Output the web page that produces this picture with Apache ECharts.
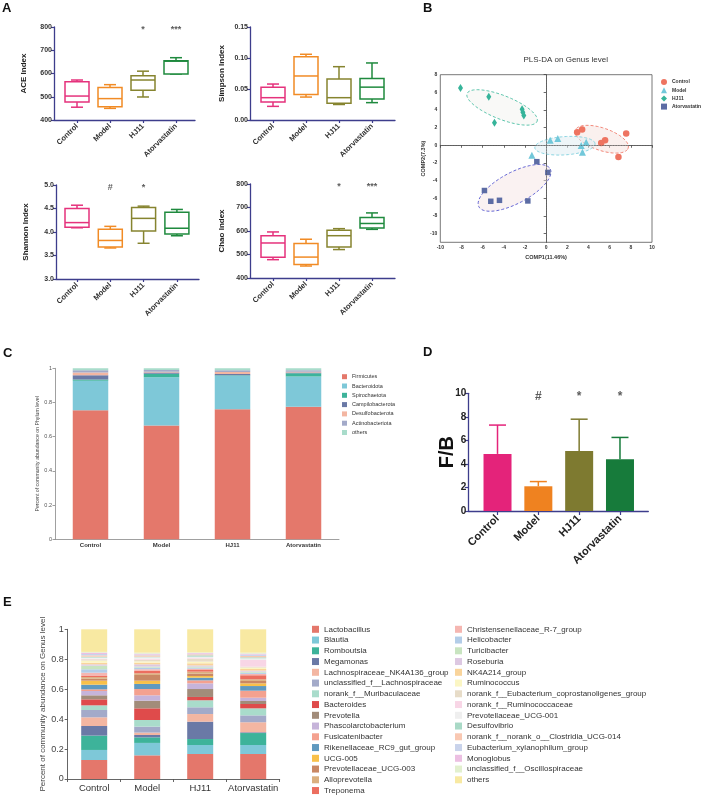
<!DOCTYPE html>
<html>
<head>
<meta charset="utf-8">
<title>Gut microbiota figure</title>
<script src="https://cdn.jsdelivr.net/npm/echarts@6/dist/echarts.min.js"></script>
<style>
  html, body { margin: 0; padding: 0; background: #fff; }
  #main { width: 708px; height: 799px; }
</style>
</head>
<body>
<div id="main"></div>
<script>
const groups = ['Control', 'Model', 'HJ11', 'Atorvastatin']

// A: alpha diversity boxes, [min, Q1, median, Q3, max]
const ace = [[455, 477, 503, 565, 572], [450, 457, 492, 540, 552], [499, 528, 572, 590, 610], [598, 598, 653, 655, 668]]
const simpson = [[0.022, 0.029, 0.036, 0.053, 0.058], [0.037, 0.041, 0.071, 0.102, 0.106], [0.025, 0.027, 0.036, 0.066, 0.086], [0.028, 0.034, 0.053, 0.067, 0.092]]
const shannon = [[4.09, 4.10, 4.20, 4.50, 4.57], [3.66, 3.68, 3.82, 4.06, 4.12], [3.76, 4.02, 4.29, 4.52, 4.55], [3.92, 3.96, 4.08, 4.42, 4.48]]
const chao = [[478, 488, 549, 580, 596], [451, 457, 489, 547, 565], [521, 532, 580, 603, 610], [607, 613, 632, 657, 677]]
const aceSig = ['', '', '*', '***']
const simpsonSig = ['', '', '', '']
const shannonSig = ['', '#', '*', '']
const chaoSig = ['', '', '*', '***']

// B: PLS-DA scores [COMP1, COMP2]
const plsControl = [[2.93, 1.48], [3.40, 1.79], [5.20, 0.27], [5.57, 0.57], [7.56, 1.33], [6.83, -1.33]]
const plsModel = [[0.38, 0.57], [1.10, 0.76], [3.31, -0.04], [3.78, 0.34], [3.43, -0.80], [-1.35, -1.14]]
const plsHJ11 = [[-8.09, 6.50], [-5.42, 5.51], [-4.88, 2.55], [-2.27, 4.07], [-2.20, 3.73], [-2.11, 3.38]]
const plsAtorvastatin = [[-0.88, -1.86], [0.16, -3.08], [-5.83, -5.13], [-5.23, -6.35], [-4.41, -6.24], [-1.73, -6.31]]
const plsYTicks = [-10, -8, -6, -4, -2, 0, 2, 4, 6, 8]

// C: phylum level
const phyla = ['Firmicutes', 'Bacteroidota', 'Spirochaetota', 'Campilobacterota', 'Desulfobacterota', 'Actinobacteriota', 'others']
const firmicutes = [0.755, 0.665, 0.760, 0.775]
const bacteroidota = [0.172, 0.283, 0.197, 0.177]
const spirochaetota = [0.008, 0.020, 0.003, 0.019]
const campilobacterota = [0.025, 0.007, 0.006, 0.004]
const desulfobacterota = [0.015, 0.005, 0.012, 0.005]
const actinobacteriota = [0.013, 0.010, 0.010, 0.008]
const phylumOthers = [0.012, 0.010, 0.012, 0.012]

// D: F/B ratio
const fbMean = [4.85, 2.1, 5.1, 4.4]
const fbSD = [2.45, 0.4, 2.7, 1.85]
const fbSig = ['', '#', '*', '*']

// E: genus level
const genera = ['Lactobacillus', 'Blautia', 'Romboutsia', 'Megamonas', 'Lachnospiraceae_NK4A136_group',
  'unclassified_f__Lachnospiraceae', 'norank_f__Muribaculaceae', 'Bacteroides', 'Prevotella',
  'Phascolarctobacterium', 'Fusicatenibacter', 'Rikenellaceae_RC9_gut_group', 'UCG-005',
  'Prevotellaceae_UCG-003', 'Alloprevotella', 'Treponema', 'Christensenellaceae_R-7_group',
  'Helicobacter', 'Turicibacter', 'Roseburia', 'NK4A214_group', 'Ruminococcus',
  'norank_f__Eubacterium_coprostanoligenes_group', 'norank_f__Ruminococcaceae', 'Prevotellaceae_UCG-001',
  'Desulfovibrio', 'norank_f__norank_o__Clostridia_UCG-014', 'Eubacterium_xylanophilum_group',
  'Monoglobus', 'unclassified_f__Oscillospiraceae', 'others']
const genusControl = [0.127, 0.067, 0.096, 0.064, 0.058, 0.049, 0.031, 0.040, 0.027, 0.029, 0.011, 0.031, 0.027, 0.013, 0.011, 0.007, 0.022, 0.023, 0.024, 0.009, 0.011, 0.014, 0.009, 0.004, 0.007, 0.006, 0.009, 0.009, 0.009, 0.005, 0.151]
const genusModel = [0.158, 0.083, 0.037, 0.016, 0.016, 0.040, 0.044, 0.078, 0.051, 0.036, 0.042, 0.034, 0.022, 0.038, 0.011, 0.016, 0.011, 0.011, 0.007, 0.015, 0.011, 0.009, 0.011, 0.007, 0.009, 0.004, 0.009, 0.005, 0.006, 0.007, 0.156]
const genusHJ11 = [0.167, 0.060, 0.040, 0.116, 0.051, 0.045, 0.047, 0.022, 0.053, 0.038, 0.020, 0.018, 0.011, 0.016, 0.013, 0.011, 0.009, 0.007, 0.007, 0.008, 0.014, 0.011, 0.020, 0.004, 0.009, 0.009, 0.007, 0.004, 0.005, 0.004, 0.154]
const genusAtorvastatin = [0.167, 0.060, 0.080, 0.005, 0.067, 0.046, 0.047, 0.029, 0.020, 0.022, 0.047, 0.031, 0.018, 0.016, 0.011, 0.027, 0.009, 0.008, 0.007, 0.007, 0.011, 0.009, 0.007, 0.044, 0.011, 0.007, 0.009, 0.009, 0.006, 0.007, 0.156]

// 颜色
const navy = '#3d3d8c'
const groupColors = ['#e5327c', '#f18b25', '#86842f', '#1f8a3e']
const barColors = ['#e4237a', '#ef8220', '#7e7a30', '#177b3b']
const plsColors = ['#ee7461', '#72c8da', '#36b49a', '#5c6ca4']
const plsSymbols = ['circle', 'triangle', 'diamond', 'rect']
const plsSizes = [6.5, 7, [5, 8], 5.5]
const ellipseStroke = ['#f07b6b', '#7fd0de', '#4ebfa5', '#5557d0']
const ellipseFill = ['rgba(245,222,218,0.45)', 'rgba(222,236,242,0.5)', 'rgba(240,240,236,0.4)', 'rgba(246,230,230,0.5)']
const phylumColors = ['#e4786b', '#7ec8d8', '#3db39a', '#6a79a6', '#f3b6a2', '#a3aac9', '#a9dccb']
const genusColors = ['#e4776b', '#7ec8d8', '#3db39a', '#6a79a6', '#f3b6a2', '#a3aac9', '#a9dccb', '#df4b4b',
  '#a28c7a', '#c6b4da', '#f4a18f', '#6099bf', '#f8c04a', '#c98864', '#dbb07f', '#ec6e5f', '#f5b6b1',
  '#b3cde8', '#c8e4c0', '#ddc8e2', '#f9d49b', '#fbf6c4', '#e7dcc8', '#f8d6e6', '#efefef', '#a9d9c6',
  '#f9c8b2', '#c9d3eb', '#ecbfe2', '#e2f0ce', '#f8e9a2']
const font = 'Arial, "Liberation Sans", Helvetica, sans-serif'

const grids = []
const xAxes = []
const yAxes = []
const series = []

//箱线图，自己画须和帽
function boxItem(params, api) {
  const i = api.value(0)
  const x = api.coord([i, api.value(1)])[0]
  const yLo = api.coord([i, api.value(1)])[1]
  const yQ1 = api.coord([i, api.value(2)])[1]
  const yMd = api.coord([i, api.value(3)])[1]
  const yQ3 = api.coord([i, api.value(4)])[1]
  const yHi = api.coord([i, api.value(5)])[1]
  const c = groupColors[i]
  const s = { stroke: c, lineWidth: 1.5, fill: null }
  const hw = 12
  const cw = 6
  return {
    type: 'group',
    children: [
      { type: 'line', shape: { x1: x, y1: yQ3, x2: x, y2: yHi }, style: s },
      { type: 'line', shape: { x1: x, y1: yQ1, x2: x, y2: yLo }, style: s },
      { type: 'line', shape: { x1: x - cw, y1: yHi, x2: x + cw, y2: yHi }, style: s },
      { type: 'line', shape: { x1: x - cw, y1: yLo, x2: x + cw, y2: yLo }, style: s },
      { type: 'rect', shape: { x: x - hw, y: yQ3, width: hw * 2, height: yQ1 - yQ3 }, style: { stroke: c, lineWidth: 1.5, fill: '#fff' } },
      { type: 'line', shape: { x1: x - hw, y1: yMd, x2: x + hw, y2: yMd }, style: s }
    ]
  }
}

function lineOnlyAxis(gi) {
  return {
    gridIndex: gi, type: 'value', min: 0, max: 1,
    axisLine: { show: true, lineStyle: { color: navy, width: 1.3 } },
    axisTick: { show: false }, axisLabel: { show: false }, splitLine: { show: false }
  }
}

function boxPanel(o) {
  const gf = grids.length
  grids.push({ left: o.axisX, top: o.top, width: o.lineEnd - o.axisX, height: o.height })
  xAxes.push(lineOnlyAxis(gf))
  yAxes.push({
    gridIndex: gf, type: 'value', min: o.min, max: o.max, interval: o.step,
    axisLine: { show: true, lineStyle: { color: navy, width: 1.3 } },
    axisTick: { show: true, length: 3, lineStyle: { color: navy, width: 1.2 } },
    axisLabel: { fontSize: 7, fontWeight: 'bold', color: '#333', margin: 2,
      formatter: v => (o.digits == null ? String(v) : v.toFixed(o.digits)) },
    splitLine: { show: false },
    name: o.name, nameLocation: 'middle', nameGap: o.nameGap,
    nameTextStyle: { fontSize: 8, fontWeight: 'bold', color: '#222' }
  })
  const gc = grids.length
  grids.push({ left: o.firstCenter - o.band / 2, top: o.top, width: o.band * 4, height: o.height })
  xAxes.push({
    gridIndex: gc, type: 'category', data: groups,
    axisLine: { show: false },
    axisTick: { show: true, alignWithLabel: true, length: 3, lineStyle: { color: navy, width: 1.2 } },
    axisLabel: { rotate: 45, fontSize: 7.5, fontWeight: 'bold', color: '#333', margin: 5, interval: 0 }
  })
  yAxes.push({ gridIndex: gc, type: 'value', min: o.min, max: o.max, show: false })
  series.push({
    type: 'custom', xAxisIndex: gc, yAxisIndex: gc, renderItem: boxItem, silent: true,
    data: o.data.map((d, i) => [i].concat(d)), encode: { x: 0, y: [1, 2, 3, 4, 5] }
  })
  series.push({
    type: 'scatter', xAxisIndex: gc, yAxisIndex: gc, symbolSize: 0, silent: true,
    data: groups.map((g, i) => [i, o.max]),
    label: { show: true, position: 'inside', formatter: p => o.sig[p.dataIndex],
      fontSize: 9, fontWeight: 'bold', color: '#333', offset: [0, 3] }
  })
}

boxPanel({ axisX: 54, lineEnd: 195, firstCenter: 77, band: 33, top: 27, height: 93, min: 400, max: 800, step: 100,
  name: 'ACE Index', nameGap: 26, data: ace, sig: aceSig })
boxPanel({ axisX: 250, lineEnd: 395, firstCenter: 273, band: 33, top: 27, height: 93, min: 0, max: 0.15, step: 0.05, digits: 2,
  name: 'Simpson Index', nameGap: 24, data: simpson, sig: simpsonSig })
boxPanel({ axisX: 56, lineEnd: 199, firstCenter: 77, band: 33.3, top: 185, height: 94, min: 3, max: 5, step: 0.5, digits: 1,
  name: 'Shannon Index', nameGap: 26, data: shannon, sig: shannonSig })
boxPanel({ axisX: 250, lineEnd: 395, firstCenter: 273, band: 33, top: 184, height: 94, min: 400, max: 800, step: 100,
  name: 'Chao Index', nameGap: 24, data: chao, sig: chaoSig })

// B PLS-DA
const plsGroups = [plsControl, plsModel, plsHJ11, plsAtorvastatin]
function ellipsePoints(pts, k) {
  const n = pts.length
  const mx = pts.reduce((a, p) => a + p[0], 0) / n
  const my = pts.reduce((a, p) => a + p[1], 0) / n
  let sxx = 0, syy = 0, sxy = 0
  pts.forEach(p => {
    sxx += (p[0] - mx) * (p[0] - mx)
    syy += (p[1] - my) * (p[1] - my)
    sxy += (p[0] - mx) * (p[1] - my)
  })
  sxx /= n - 1; syy /= n - 1; sxy /= n - 1
  const mid = (sxx + syy) / 2
  const d = Math.sqrt(((sxx - syy) / 2) ** 2 + sxy * sxy)
  const a = Math.sqrt(mid + d), b = Math.sqrt(Math.max(mid - d, 0))
  const th = 0.5 * Math.atan2(2 * sxy, sxx - syy)
  const out = []
  for (let t = 0; t < 72; t++) {
    const u = t / 72 * Math.PI * 2
    const ex = a * Math.cos(u), ey = b * Math.sin(u)
    out.push([mx + k * (ex * Math.cos(th) - ey * Math.sin(th)), my + k * (ex * Math.sin(th) + ey * Math.cos(th))])
  }
  return out
}
const gB = grids.length
grids.push({ left: 440.3, top: 74.7, width: 211.7, height: 167.6, show: true, borderColor: '#555', borderWidth: 0.8 })
xAxes.push({
  gridIndex: gB, type: 'value', min: -10, max: 10, interval: 2,
  axisLine: { show: true, lineStyle: { color: '#444', width: 0.8 } },
  axisTick: { show: true, length: 2.5, lineStyle: { color: '#444', width: 0.8 } },
  axisLabel: { fontSize: 5, fontWeight: 'bold', color: '#333', margin: 3 },
  splitLine: { show: false },
  name: 'COMP1(11.46%)', nameLocation: 'middle', nameGap: 12,
  nameTextStyle: { fontSize: 5.5, fontWeight: 'bold', color: '#333' }
})
yAxes.push({
  gridIndex: gB, type: 'value', min: -11, max: 8,
  axisLine: { show: true, lineStyle: { color: '#444', width: 0.8 } },
  axisTick: { show: true, length: 2.5, customValues: plsYTicks, lineStyle: { color: '#444', width: 0.8 } },
  axisLabel: { fontSize: 5, fontWeight: 'bold', color: '#333', margin: 3, customValues: plsYTicks },
  splitLine: { show: false },
  name: 'COMP2(7.3%)', nameLocation: 'middle', nameGap: 13,
  nameTextStyle: { fontSize: 5.5, fontWeight: 'bold', color: '#333' }
})
series.push({
  type: 'custom', xAxisIndex: gB, yAxisIndex: gB, silent: true, z: 1,
  data: plsGroups.map(() => [0, 0]),
  renderItem: (params, api) => {
    const g = params.dataIndex
    const pts = ellipsePoints(plsGroups[g], 1.38).map(p => api.coord(p))
    return { type: 'polygon', shape: { points: pts },
      style: { fill: ellipseFill[g], stroke: ellipseStroke[g], lineWidth: 0.9, lineDash: [3, 2] } }
  },
  markLine: {
    silent: true, symbol: ['none', 'none'], label: { show: false },
    lineStyle: { type: 'dotted', color: '#555', width: 0.8 },
    data: [{ xAxis: 0 }, { yAxis: 0 }]
  }
})
groups.forEach((g, k) => {
  series.push({
    type: 'scatter', name: g, xAxisIndex: gB, yAxisIndex: gB, z: 3,
    symbol: plsSymbols[k], symbolSize: plsSizes[k], data: plsGroups[k],
    itemStyle: { color: plsColors[k], opacity: 1 }
  })
})

// C phylum
const phylumValues = [firmicutes, bacteroidota, spirochaetota, campilobacterota, desulfobacterota, actinobacteriota, phylumOthers]
const gC = grids.length
grids.push({ left: 55, top: 368.3, width: 284, height: 171 })
xAxes.push({
  gridIndex: gC, type: 'category', data: groups,
  axisLine: { show: true, lineStyle: { color: '#888', width: 0.8 } },
  axisTick: { show: false },
  axisLabel: { fontSize: 6, fontWeight: 'bold', color: '#333', margin: 3, interval: 0 }
})
yAxes.push({
  gridIndex: gC, type: 'value', min: 0, max: 1, interval: 0.2,
  axisLine: { show: true, lineStyle: { color: '#888', width: 0.8 } },
  axisTick: { show: true, length: 2.5, lineStyle: { color: '#888', width: 0.8 } },
  axisLabel: { fontSize: 5.5, color: '#555', margin: 3 },
  splitLine: { show: false },
  name: 'Percent of community abundance on Phylum level', nameLocation: 'middle', nameGap: 12,
  nameTextStyle: { fontSize: 5.2, color: '#444' }
})
phyla.forEach((p, k) => {
  series.push({
    type: 'bar', name: p, stack: 'phylum', xAxisIndex: gC, yAxisIndex: gC, barWidth: 35.5,
    data: phylumValues[k], itemStyle: { color: phylumColors[k] }
  })
})

// D F/B
const gDf = grids.length
grids.push({ left: 468.3, top: 393.3, width: 180, height: 117.7 })
xAxes.push(lineOnlyAxis(gDf))
yAxes.push({
  gridIndex: gDf, type: 'value', min: 0, max: 10, interval: 2,
  axisLine: { show: true, lineStyle: { color: navy, width: 1.3 } },
  axisTick: { show: true, length: 3.5, lineStyle: { color: navy, width: 1.2 } },
  axisLabel: { fontSize: 10, fontWeight: 'bold', color: '#222', margin: 2 },
  splitLine: { show: false },
  name: 'F/B', nameLocation: 'middle', nameGap: 11, nameMoveOverlap: false,
  nameTextStyle: { fontSize: 20, fontWeight: 'bold', color: '#111' }
})
const gDc = grids.length
grids.push({ left: 477.1, top: 393.3, width: 163.3, height: 117.7 })
xAxes.push({
  gridIndex: gDc, type: 'category', data: groups,
  axisLine: { show: false },
  axisTick: { show: true, alignWithLabel: true, length: 4, lineStyle: { color: navy, width: 1.2 } },
  axisLabel: { rotate: 45, fontSize: 11, fontWeight: 'bold', color: '#222', margin: 6, interval: 0 }
})
yAxes.push({ gridIndex: gDc, type: 'value', min: 0, max: 10, show: false })
series.push({
  type: 'bar', name: 'F/B', xAxisIndex: gDc, yAxisIndex: gDc, barWidth: 28, silent: true,
  data: fbMean.map((v, i) => ({ value: v, itemStyle: { color: barColors[i] } }))
})
series.push({
  type: 'custom', xAxisIndex: gDc, yAxisIndex: gDc, silent: true, z: 1,
  data: fbMean.map((v, i) => [i, v, v + fbSD[i]]), encode: { x: 0, y: [1, 2] },
  renderItem: (params, api) => {
    const i = api.value(0)
    const lo = api.coord([i, api.value(1)])
    const hi = api.coord([i, api.value(2)])
    const s = { stroke: barColors[i], lineWidth: 1.5 }
    return { type: 'group', children: [
      { type: 'line', shape: { x1: lo[0], y1: lo[1], x2: hi[0], y2: hi[1] }, style: s },
      { type: 'line', shape: { x1: hi[0] - 8.5, y1: hi[1], x2: hi[0] + 8.5, y2: hi[1] }, style: s }
    ] }
  }
})
series.push({
  type: 'scatter', xAxisIndex: gDc, yAxisIndex: gDc, symbolSize: 0, silent: true,
  data: groups.map((g, i) => [i, 10]),
  label: { show: true, position: 'inside', formatter: p => fbSig[p.dataIndex],
    fontSize: 12, fontWeight: 'bold', color: '#333', offset: [0, 3] }
})

// E genus
const genusByGroup = [genusControl, genusModel, genusHJ11, genusAtorvastatin]
const gE = grids.length
grids.push({ left: 67.7, top: 629.3, width: 212, height: 149.7 })
xAxes.push({
  gridIndex: gE, type: 'category', data: groups,
  axisLine: { show: true, lineStyle: { color: '#555', width: 0.9 } },
  axisTick: { show: true, length: 3, lineStyle: { color: '#555', width: 0.9 } },
  axisLabel: { fontSize: 9.5, color: '#333', margin: 4, interval: 0 }
})
yAxes.push({
  gridIndex: gE, type: 'value', min: 0, max: 1, interval: 0.2,
  axisLine: { show: true, lineStyle: { color: '#555', width: 0.9 } },
  axisTick: { show: true, length: 3, lineStyle: { color: '#555', width: 0.9 } },
  axisLabel: { fontSize: 9, color: '#444', margin: 4 },
  splitLine: { show: false },
  name: 'Percent of community abundance on Genus level', nameLocation: 'middle', nameGap: 20,
  nameTextStyle: { fontSize: 8, color: '#444' }
})
genera.forEach((gname, k) => {
  series.push({
    type: 'bar', name: gname, stack: 'genus', xAxisIndex: gE, yAxisIndex: gE, barWidth: 26,
    data: genusByGroup.map(arr => arr[k]), itemStyle: { color: genusColors[k] }
  })
})

const legendE = (names, offset, left) => ({
  orient: 'vertical', left: left, top: 625.3, padding: 0, itemWidth: 7, itemHeight: 7, itemGap: 2.75,
  selectedMode: false, icon: 'rect',
  textStyle: { fontSize: 8, color: '#333' },
  data: names.map((n, j) => ({ name: n, itemStyle: { color: genusColors[offset + j] } }))
})

const panelLetters = [['A', 2, 8], ['B', 423, 8], ['C', 3, 353], ['D', 423, 352], ['E', 3, 602]]

const MyChart = echarts.init(document.getElementById('main'), null, { renderer: 'canvas' })
MyChart.setOption({
  animation: false,
  backgroundColor: '#fff',
  textStyle: { fontFamily: font },
  grid: grids,
  xAxis: xAxes,
  yAxis: yAxes,
  legend: [
    {
      orient: 'vertical', left: 661, top: 79, padding: 0, itemWidth: 6, itemHeight: 6, itemGap: 2.2,
      selectedMode: false, textStyle: { fontSize: 5, fontWeight: 'bold', color: '#333' },
      data: groups.map((g, k) => ({ name: g, icon: plsSymbols[k], itemStyle: { color: plsColors[k] } }))
    },
    {
      orient: 'vertical', left: 342, top: 373.7, padding: 0, itemWidth: 5, itemHeight: 5, itemGap: 3.3,
      selectedMode: false, icon: 'rect', textStyle: { fontSize: 5.5, color: '#333' },
      data: phyla.map((p, k) => ({ name: p, itemStyle: { color: phylumColors[k] } }))
    },
    legendE(genera.slice(0, 16), 0, 312),
    legendE(genera.slice(16), 16, 455)
  ],
  graphic: panelLetters.map(l => ({
    type: 'text', x: l[1], y: l[2],
    style: { text: l[0], font: 'bold 13px ' + font, fill: '#111', verticalAlign: 'middle' }
  })).concat([{
    type: 'text', x: 565.7, y: 60,
    style: { text: 'PLS-DA on Genus level', font: '8px ' + font, fill: '#333', align: 'center', verticalAlign: 'middle' }
  }]),
  series: series
})
</script>
</body>
</html>
